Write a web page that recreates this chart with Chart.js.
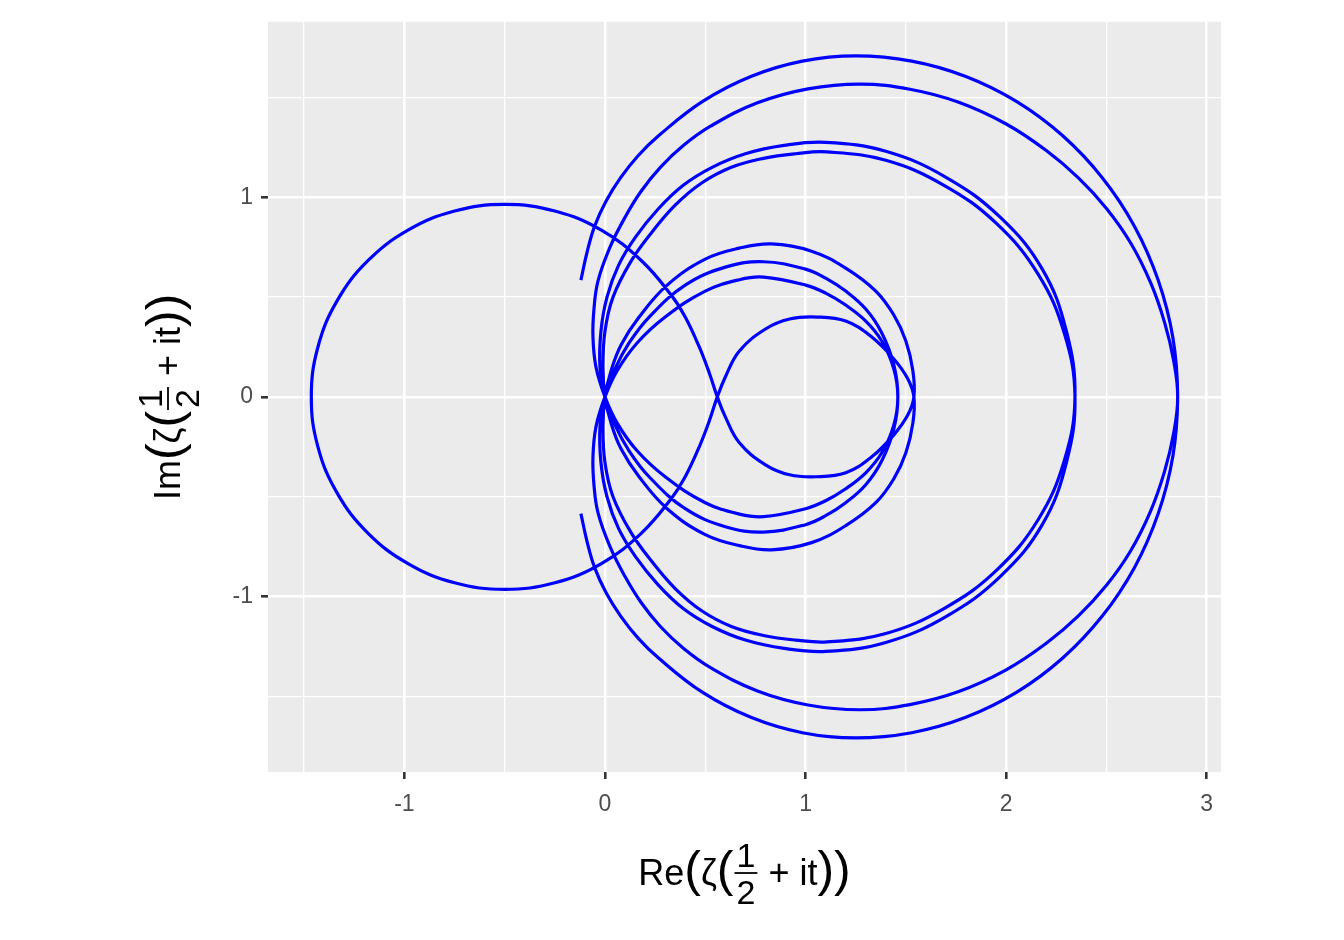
<!DOCTYPE html>
<html>
<head>
<meta charset="utf-8">
<script src="https://cdn.jsdelivr.net/npm/chart.js@4.4.1/dist/chart.umd.min.js"></script>
<style>
  html, body { margin: 0; padding: 0; background: #ffffff; }
  canvas { display: block; }
</style>
</head>
<body>
<canvas id="zetaChart" width="1344" height="940" style="width:1344px;height:940px"></canvas>
<script>
// zeta(1/2 + it) for t >= 0; the t < 0 half is its complex conjugate
// t = 0 .. first zero
const startRe = [-1.464, -1.431, -1.335, -1.182, -0.982, -0.75, -0.5, -0.25, -0.018, 0.182, 0.33, 0.40, 0.47, 0.52, 0.56,
  0.60, 0.67, 0.80, 0.92, 1.055, 1.20, 1.33, 1.44, 1.51, 1.54,
  1.535, 1.50, 1.44, 1.35, 1.20, 1.03, 0.83, 0.67, 0.50, 0.31, 0.17, 0.08, 0.03, 0];
const startIm = [0, -0.25, -0.482, -0.682, -0.835, -0.931, -0.964, -0.931, -0.835, -0.682, -0.51, -0.40, -0.25, -0.12, 0,
  0.10, 0.23, 0.34, 0.39, 0.40, 0.38, 0.30, 0.19, 0.09, 0,
  -0.13, -0.28, -0.41, -0.53, -0.645, -0.73, -0.766, -0.745, -0.69, -0.56, -0.40, -0.26, -0.13, 0];

// first zero .. second zero
const loop1Re = [-0.01, 0.0, 0.04, 0.13, 0.23, 0.35, 0.48, 0.63, 0.79, 0.95, 1.107, 1.40, 1.69, 1.95, 2.16, 2.29, 2.343,
  2.30, 2.18, 1.97, 1.70, 1.40, 1.101, 0.893, 0.70, 0.534, 0.39, 0.264, 0.152, 0.068, 0.01, -0.02, -0.025, 0];
const loop1Im = [0.15, 0.33, 0.50, 0.68, 0.82, 0.96, 1.07, 1.15, 1.195, 1.218, 1.227, 1.185, 1.06, 0.87, 0.614, 0.318, 0,
  -0.33, -0.64, -0.90, -1.10, -1.23, -1.275, -1.26, -1.218, -1.15, -1.06, -0.94, -0.80, -0.66, -0.50, -0.33, -0.15, 0];

// second zero .. third zero
const loop2Re = [0.05, 0.12, 0.22, 0.40, 0.60, 0.79, 1.0, 1.1, 1.2, 1.30, 1.38, 1.44, 1.46,
  1.44, 1.38, 1.3, 1.2, 1.1, 1.0, 0.79, 0.67, 0.50, 0.30, 0.16, 0.06, 0];
const loop2Im = [0.14, 0.27, 0.40, 0.56, 0.65, 0.677, 0.64, 0.595, 0.53, 0.44, 0.32, 0.16, 0,
  -0.14, -0.28, -0.38, -0.46, -0.52, -0.56, -0.60, -0.587, -0.53, -0.40, -0.27, -0.13, 0];

// third zero .. end of range
const lastRe = [-0.045, -0.06, -0.055, -0.035, 0.025, 0.10, 0.18, 0.276, 0.392, 0.528, 0.76, 1.012, 1.274, 1.52, 1.76, 2.0, 2.2, 2.36, 2.50, 2.62, 2.72, 2.79, 2.835, 2.855,
  2.831, 2.758, 2.64, 2.479, 2.282, 2.053, 1.799, 1.529, 1.25, 0.984, 0.727, 0.485, 0.267, 0.165, 0.078, 0.005, -0.052, -0.09, -0.12];
const lastIm = [0.15, 0.30, 0.44, 0.58, 0.75, 0.90, 1.03, 1.15, 1.26, 1.357, 1.473, 1.543, 1.567, 1.541, 1.477, 1.367, 1.234, 1.097, 0.944, 0.772, 0.572, 0.372, 0.181, 0,
  -0.297, -0.584, -0.854, -1.098, -1.308, -1.479, -1.605, -1.682, -1.708, -1.682, -1.605, -1.479, -1.308, -1.208, -1.098, -0.98, -0.854, -0.722, -0.585];

const xMajor = [-1, 0, 1, 2, 3];
const xMinor = [-1.5, -0.5, 0.5, 1.5, 2.5];
const yMajor = [-1, 0, 1];
const yMinor = [-1.5, -0.5, 0.5, 1.5];

const FONT = '"Liberation Sans", Arial, Helvetica, sans-serif';

const halfRe = [...startRe, ...loop1Re, ...loop2Re, ...lastRe];
const halfIm = [...startIm, ...loop1Im, ...loop2Im, ...lastIm];

// whole curve: conjugate half (t from -T up to 0), then t from 0 to T
const points = [];
for (let i = halfRe.length - 1; i > 0; i--) points.push({ x: halfRe[i], y: -halfIm[i] });
for (let i = 0; i < halfRe.length; i++) points.push({ x: halfRe[i], y: halfIm[i] });

// ggplot style 5% expansion
function expand(vals) {
  const lo = Math.min(...vals), hi = Math.max(...vals);
  const pad = (hi - lo) * 0.05;
  return [lo - pad, hi + pad];
}
const xRange = expand(points.map(p => p.x));
const yRange = expand(points.map(p => p.y));

function gridScale(major, minor, range, isX) {
  const all = [...major, ...minor].sort((a, b) => a - b);
  return {
    type: 'linear',
    position: isX ? 'bottom' : 'left',
    min: range[0],
    max: range[1],
    afterBuildTicks: s => { s.ticks = all.map(v => ({ value: v })); },
    afterFit: s => { if (isX) s.height = 168; else s.width = 268; },
    border: { display: false },
    grid: {
      color: '#ffffff',
      lineWidth: c => major.includes(c.tick.value) ? 2.6 : 1.3,
      tickColor: c => major.includes(c.tick.value) ? '#333333' : 'rgba(0,0,0,0)',
      tickWidth: 2.6,
      tickLength: 7
    },
    ticks: {
      autoSkip: false,
      maxRotation: 0,
      color: '#4D4D4D',
      font: { family: FONT, size: 23 },
      padding: isX ? 12 : 8,
      callback: v => major.includes(v) ? String(v) : ''
    }
  };
}

// label like plotmath: Re(zeta(frac(1,2) + it)), origin at the fraction bar
function drawMathTitle(ctx, head) {
  const pieces = [
    { t: head, s: 36 }, { t: '(', s: 50 }, { t: 'ζ', s: 36 }, { t: '(', s: 50 },
    { frac: ['1', '2'], s: 34 }, { t: ' + it', s: 36 }, { t: ')', s: 50 }, { t: ')', s: 50 }
  ];
  pieces.forEach(p => {
    ctx.font = p.s + 'px ' + FONT;
    if (p.frac) {
      p.w = Math.max(ctx.measureText(p.frac[0]).width, ctx.measureText(p.frac[1]).width) + 6;
    } else {
      p.w = ctx.measureText(p.t).width;
    }
  });
  let x = -pieces.reduce((a, p) => a + p.w, 0) / 2;
  ctx.fillStyle = '#000000';
  ctx.strokeStyle = '#000000';
  pieces.forEach(p => {
    ctx.font = p.s + 'px ' + FONT;
    if (p.frac) {
      ctx.textAlign = 'center';
      ctx.fillText(p.frac[0], x + p.w / 2, -6);
      ctx.fillText(p.frac[1], x + p.w / 2, 31);
      ctx.lineWidth = 1.8;
      ctx.beginPath();
      ctx.moveTo(x + 1, 0);
      ctx.lineTo(x + p.w - 1, 0);
      ctx.stroke();
    } else {
      ctx.textAlign = 'left';
      ctx.fillText(p.t, x, p.s > 40 ? 13 : 12);
    }
    x += p.w;
  });
}

const panelPlugin = {
  id: 'panel',
  beforeDraw(chart) {
    const { ctx, chartArea: a } = chart;
    ctx.save();
    ctx.fillStyle = '#ffffff';
    ctx.fillRect(0, 0, chart.width, chart.height);
    ctx.fillStyle = '#EBEBEB';
    ctx.fillRect(a.left, a.top, a.right - a.left, a.bottom - a.top);
    ctx.restore();
  },
  afterDraw(chart) {
    const { ctx, chartArea: a } = chart;
    const cx = (a.left + a.right) / 2, cy = (a.top + a.bottom) / 2;
    ctx.save();
    ctx.textBaseline = 'alphabetic';
    ctx.translate(cx, 873);
    drawMathTitle(ctx, 'Re');
    ctx.restore();
    ctx.save();
    ctx.textBaseline = 'alphabetic';
    ctx.translate(168, cy);
    ctx.rotate(-Math.PI / 2);
    drawMathTitle(ctx, 'Im');
    ctx.restore();
  }
};

new Chart(document.getElementById('zetaChart'), {
  type: 'scatter',
  data: {
    datasets: [{
      data: points,
      showLine: true,
      borderColor: '#0000FF',
      borderWidth: 3.2,
      pointRadius: 0,
      tension: 0.4,
      fill: false
    }]
  },
  options: {
    responsive: false,
    animation: false,
    devicePixelRatio: 1,
    layout: { padding: { left: 0, top: 18, right: 123, bottom: 0 } },
    plugins: { legend: { display: false }, tooltip: { enabled: false } },
    scales: {
      x: gridScale(xMajor, xMinor, xRange, true),
      y: gridScale(yMajor, yMinor, yRange, false)
    }
  },
  plugins: [panelPlugin]
});
</script>
</body>
</html>
